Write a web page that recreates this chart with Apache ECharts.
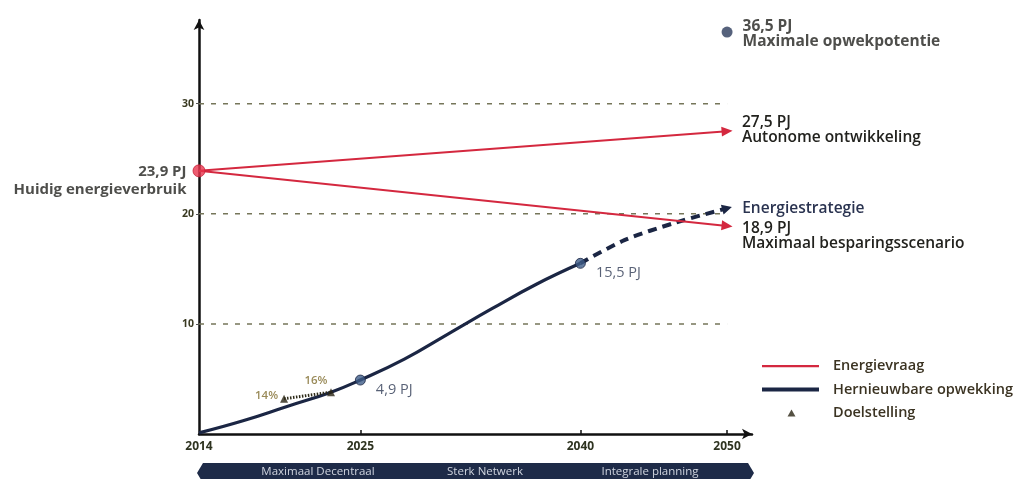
<!DOCTYPE html>
<html><head><meta charset="utf-8">
<script src="https://cdn.jsdelivr.net/npm/echarts@6/dist/echarts.min.js"></script>
<style>html,body{margin:0;padding:0;background:#fff}#c{width:1033px;height:479px}</style>
</head><body><div id="c"></div>
<script>
// ---- data ----
const xTickYears = [2014, 2025, 2040, 2050];
const yTickValues = [10, 20, 30];
const gridLineValues = [10, 20, 30];
const gridLineYears = [2014, 2050];
const huidig = [2014, 23.9];
const autonoomEinde = [2050, 27.5];
const besparingEinde = [2050, 18.9];
const opwekJaren = [2014, 2017, 2020, 2023, 2025, 2028, 2031, 2034, 2037, 2040];
const opwekWaarden = [0.1, 1.2, 2.5, 3.8, 4.9, 6.8, 9.1, 11.4, 13.6, 15.5];
const strategieJaren = [2040, 2043, 2046.5, 2050];
const strategieWaarden = [15.5, 17.6, 19.2, 20.5];
const mijlpaalJaren = [2025, 2040];
const mijlpaalWaarden = [4.9, 15.5];
const mijlpaalLabels = ['4,9 PJ', '15,5 PJ'];
const potentie = [2050, 36.5];
const doelJaren = [2019.8, 2023.0];
const doelWaarden = [3.2, 3.8];
const doelLabels = ['14%', '16%'];
const fasen = ['Maximaal Decentraal', 'Sterk Netwerk', 'Integrale planning'];
const legendNamen = ['Energievraag', 'Hernieuwbare opwekking', 'Doelstelling'];

// ---- styles ----
const RED = '#d4283f', NAVY = '#1b2644', DOT = '#3f5c88', TXT = '#22221e', OLIVE = '#7f6d2e';
const FONT = '"Open Sans"';
const richLbl = {
  a: {fontFamily: FONT, fontSize: 15.5, fontWeight: 600, color: TXT, lineHeight: 15},
  b: {fontFamily: FONT, fontSize: 15.5, fontWeight: 600, color: TXT, lineHeight: 15}
};
const richBold = {
  a: Object.assign({}, richLbl.a, {fontWeight: 700}),
  b: Object.assign({}, richLbl.b, {fontWeight: 700})
};
const fmtPJ = v => String(v).replace('.', ',') + ' PJ';

const chart = echarts.init(document.getElementById('c'), null, {renderer: 'canvas'});

const gridSeries = gridLineValues.map((v, i) => ({
  id: 'grid' + i, type: 'line', silent: true, symbol: 'none', z: 1,
  data: gridLineYears.map(y => [y, v]),
  lineStyle: {color: '#76765a', width: 1.5, type: [5, 7]}
}));

function arrowLine(id, name, pts, style, labelCfg) {
  return {
    id, name, type: 'line', symbol: 'triangle', symbolSize: [10, 11], showSymbol: true,
    z: 4,
    data: pts.map((p, i) => i === pts.length - 1
      ? {value: p, label: labelCfg}
      : {value: p, symbol: 'none', label: {show: false}}),
    lineStyle: style, itemStyle: {color: style.color},
    label: {show: false}
  };
}

const option = {
  animation: false,
  backgroundColor: '#fff',
  grid: {left: 199, right: 281, top: 20, bottom: 45, containLabel: false},
  xAxis: {
    type: 'value', min: 2014, max: 2051.7,
    axisLine: {show: true, symbol: ['none', 'arrow'], symbolSize: [8, 10],
      lineStyle: {color: '#111', width: 2.5}},
    axisTick: {show: true, inside: true, length: 4, customValues: xTickYears.slice(1),
      lineStyle: {color: '#111', width: 1.5}},
    axisLabel: {customValues: xTickYears, formatter: v => String(v), margin: 7,
      fontFamily: FONT, fontSize: 12, fontWeight: 700, color: '#2e3320'},
    splitLine: {show: false}
  },
  yAxis: {
    type: 'value', min: 0, max: 37.6,
    axisLine: {show: true, symbol: ['none', 'arrow'], symbolSize: [8, 10],
      lineStyle: {color: '#111', width: 2.5}},
    axisTick: {show: true, length: 3, customValues: yTickValues, lineStyle: {color: '#555', width: 1}},
    axisLabel: {customValues: yTickValues, margin: 5,
      fontFamily: FONT, fontSize: 10.5, fontWeight: 700, color: '#3a3a22'},
    splitLine: {show: false}
  },
  legend: {
    orient: 'vertical', left: 757, top: 352, itemWidth: 57, itemHeight: 10, itemGap: 5.5,
    selectedMode: false,
    data: [
      {name: legendNamen[0], icon: 'path://M0 0M0 4H57V6.2H0ZM57 10'},
      {name: legendNamen[1], icon: 'path://M0 0M0 3H57V7H0ZM57 10'},
      {name: legendNamen[2], icon: 'path://M0 0M25.5 8.5L29.5 1.5L33.5 8.5ZM57 10'}
    ],
    textStyle: {fontFamily: FONT, fontSize: 14.5, fontWeight: 600, color: '#3b3322',
      lineHeight: 18, padding: [0, 0, 0, 9]}
  },
  series: [
    ...gridSeries,
    arrowLine('autonoom', legendNamen[0], [huidig, autonoomEinde], {color: RED, width: 2},
      {show: true, position: 'right', distance: 9, offset: [0, -1],
       formatter: () => '{a|' + fmtPJ(autonoomEinde[1]) + '}\n{b|Autonome ontwikkeling}', rich: richLbl}),
    arrowLine('besparing', legendNamen[0], [huidig, besparingEinde], {color: RED, width: 2},
      {show: true, position: 'right', distance: 9, offset: [0, 10],
       formatter: () => '{a|' + fmtPJ(besparingEinde[1]) + '}\n{b|Maximaal besparingsscenario}', rich: richLbl}),
    {
      id: 'opwek', name: legendNamen[1], type: 'line', smooth: 0.45, symbol: 'none', z: 3,
      data: opwekJaren.map((y, i) => [y, opwekWaarden[i]]),
      lineStyle: {color: NAVY, width: 3.2}, itemStyle: {color: NAVY}
    },
    Object.assign(arrowLine('strategie', 'Energiestrategie',
      strategieJaren.map((y, i) => [y, strategieWaarden[i]]),
      {color: NAVY, width: 4, type: [9, 6]},
      {show: true, position: 'right', distance: 9,
       formatter: '{a|Energiestrategie}',
       rich: {a: Object.assign({}, richLbl.a, {color: '#2a3350'})}}), {smooth: 0.3, symbolSize: [10, 10], z: 3}),
    {
      id: 'mijlpalen', type: 'scatter', symbol: 'circle', symbolSize: 10, z: 5,
      data: mijlpaalJaren.map((y, i) => ({value: [y, mijlpaalWaarden[i]]})),
      itemStyle: {color: DOT, borderColor: NAVY, borderWidth: 1},
      label: {show: true, position: 'right', distance: 6, offset: [4, 10],
        formatter: p => mijlpaalLabels[p.dataIndex],
        fontFamily: FONT, fontSize: 14.5, fontWeight: 500, color: '#2e3a54'}
    },
    {
      id: 'potentie', type: 'scatter', symbol: 'circle', symbolSize: 11, z: 5,
      data: [potentie], itemStyle: {color: '#2c3b5b'},
      label: {show: true, position: 'right', distance: 10, offset: [0, 2],
        formatter: () => '{a|' + fmtPJ(potentie[1]) + '}\n{b|Maximale opwekpotentie}', rich: richBold}
    },
    {
      id: 'huidig', type: 'scatter', symbol: 'circle', symbolSize: 12, z: 6,
      data: [huidig], itemStyle: {color: '#e8344e', borderColor: '#c82038', borderWidth: 1},
      label: {show: true, position: 'left', distance: 6, offset: [0, 10], align: 'right',
        formatter: () => '{a|' + fmtPJ(huidig[1]) + '}\n{b|Huidig energieverbruik}',
        rich: {a: Object.assign({}, richBold.a, {align: 'right', lineHeight: 18, fontSize: 15}),
               b: Object.assign({}, richBold.b, {align: 'right', lineHeight: 18, fontSize: 15})}}
    },
    {
      id: 'doelLijn', name: 'doelLijn', type: 'line', symbol: 'none', z: 4,
      data: doelJaren.map((y, i) => [y, doelWaarden[i]]),
      lineStyle: {color: '#2d2a18', width: 3, type: [1.5, 1.5]}
    },
    {
      id: 'doel', name: legendNamen[2], type: 'scatter', symbol: 'triangle', symbolSize: 8, z: 6,
      data: doelJaren.map((y, i) => ({value: [y, doelWaarden[i]],
        label: {position: i === 0 ? 'left' : 'top', distance: i === 0 ? 2 : 3,
          offset: i === 0 ? [0, -3] : [-15, 2]}})),
      itemStyle: {color: '#2a2614'},
      label: {show: true, formatter: p => doelLabels[p.dataIndex],
        fontFamily: FONT, fontSize: 11.5, fontWeight: 600, color: OLIVE}
    }
  ],
  graphic: [
    {type: 'polygon', silent: true,
     shape: {points: [[197, 473], [203, 463], [748, 463], [754, 473], [748, 483], [203, 483]]},
     style: {fill: '#1e2b48'}},
    ...fasen.map((t, i) => ({type: 'text', silent: true, x: [318, 485, 650][i], y: 471.5,
      style: {text: t, fill: '#cfd4de', font: '11.5px ' + FONT, textAlign: 'center', textVerticalAlign: 'middle'}}))
  ]
};
chart.setOption(option);

function rot(a, b) {
  const p = chart.convertToPixel({gridIndex: 0}, a), q = chart.convertToPixel({gridIndex: 0}, b);
  return Math.atan2(-(q[1] - p[1]), q[0] - p[0]) * 180 / Math.PI - 90;
}
const sj = strategieJaren.map((y, i) => [y, strategieWaarden[i]]);
chart.setOption({series: [
  {id: 'autonoom', symbolRotate: rot(huidig, autonoomEinde)},
  {id: 'besparing', symbolRotate: rot(huidig, besparingEinde)},
  {id: 'strategie', symbolRotate: rot(sj[sj.length - 2], sj[sj.length - 1])}
]});
</script></body></html>
